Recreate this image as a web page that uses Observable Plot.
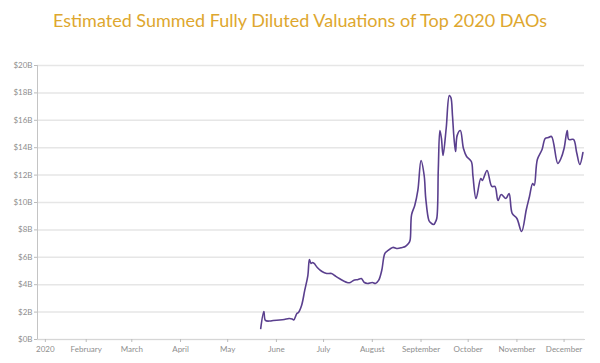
<!DOCTYPE html>
<html>
<head>
<meta charset="utf-8">
<script src="https://cdn.jsdelivr.net/npm/d3@7"></script>
<script src="https://cdn.jsdelivr.net/npm/@observablehq/plot@0.6"></script>
<style>
  html, body { margin: 0; padding: 0; background: #fff; }
  #title { height: 40px; line-height: 40px; text-align: center; font-family: Lato, "Open Sans", sans-serif; font-size: 18px; color: #dea72e; width: 600px; }
  #chart svg { display: block; font-family: Lato, "Open Sans", sans-serif; }
</style>
</head>
<body>
<div id="title">Estimated Summed Fully Diluted Valuations of Top 2020 DAOs</div>
<div id="chart"></div>
<script>
const dates = ["2020-05-22","2020-05-24","2020-05-25","2020-05-28","2020-05-30","2020-06-03","2020-06-06","2020-06-09","2020-06-11","2020-06-12",
"2020-06-14","2020-06-15","2020-06-17","2020-06-19","2020-06-21","2020-06-22","2020-06-23","2020-06-24","2020-06-25","2020-06-27",
"2020-06-30","2020-07-03","2020-07-06","2020-07-08","2020-07-11","2020-07-16","2020-07-18","2020-07-20","2020-07-23","2020-07-25",
"2020-07-27","2020-07-29","2020-08-01","2020-08-03","2020-08-05","2020-08-07","2020-08-09","2020-08-11","2020-08-14","2020-08-17",
"2020-08-20","2020-08-22","2020-08-24","2020-08-25","2020-08-26","2020-08-28","2020-08-30","2020-09-01","2020-09-03","2020-09-04",
"2020-09-06","2020-09-07","2020-09-09","2020-09-10","2020-09-11","2020-09-12","2020-09-13","2020-09-14","2020-09-15","2020-09-17",
"2020-09-19","2020-09-20","2020-09-21","2020-09-22","2020-09-23","2020-09-24","2020-09-26","2020-09-28","2020-09-30","2020-10-03",
"2020-10-04","2020-10-06","2020-10-09","2020-10-10","2020-10-13","2020-10-16","2020-10-18","2020-10-20","2020-10-22","2020-10-25",
"2020-10-27","2020-10-29","2020-11-01","2020-11-04","2020-11-07","2020-11-09","2020-11-11","2020-11-12","2020-11-14","2020-11-17",
"2020-11-19","2020-11-21","2020-11-23","2020-11-27","2020-11-29","2020-12-01","2020-12-03","2020-12-04","2020-12-07","2020-12-09",
"2020-12-11","2020-12-13"];
const valuesB = [0.80,2.04,1.39,1.35,1.39,1.42,1.46,1.53,1.50,1.42,
1.90,1.97,2.48,3.58,4.67,5.84,5.55,5.62,5.55,5.26,
4.96,4.82,4.82,4.67,4.45,4.16,4.16,4.31,4.38,4.45,
4.16,4.09,4.16,4.09,4.31,5.04,6.28,6.50,6.72,6.64,
6.72,6.79,7.00,7.23,9.12,9.78,10.90,13.07,11.97,10.30,
8.69,8.54,8.39,8.54,8.83,12.48,15.26,14.67,13.43,15.40,
17.81,17.66,16.35,14.67,13.72,14.90,15.26,13.94,13.36,12.99,
11.97,10.29,11.75,11.61,12.34,11.17,11.17,10.15,10.58,10.29,
10.66,9.20,8.83,7.88,9.49,10.44,11.39,11.24,13.14,13.87,
14.67,14.74,14.82,12.85,13.21,13.94,15.26,14.60,14.60,13.65,
12.77,13.65];
const yTicks = [0,2,4,6,8,10,12,14,16,18,20];
const monthLabels = ["2020","February","March","April","May","June","July","August","September","October","November","December"];
const tickDates = ["2020-01-06","2020-02-01","2020-03-01","2020-04-01","2020-05-01","2020-06-01","2020-07-01","2020-08-01","2020-09-01","2020-10-01","2020-11-01","2020-12-01"];
const monthTicks = tickDates.map(d => new Date(d + "T00:00:00Z"));

const data = dates.map((d, i) => ({date: new Date(d + "T00:00:00Z"), value: valuesB[i]}));

const chart = Plot.plot({
  width: 600,
  height: 323,
  marginTop: 25,
  marginBottom: 24,
  marginLeft: 37,
  marginRight: 16,
  style: {fontFamily: "Lato, 'Open Sans', sans-serif", background: "#fff"},
  x: {type: "utc", domain: [new Date(Date.UTC(2020,0,1)), new Date(Date.UTC(2020,11,14))]},
  y: {domain: [0, 20]},
  marks: [
    Plot.gridY(yTicks, {stroke: "#e6e6e6", strokeOpacity: 1, strokeWidth: 1.5}),
    Plot.frame({anchor: "left", stroke: "#c4c4c4", strokeWidth: 1}),
    Plot.frame({anchor: "bottom", stroke: "#d6d6d6", strokeWidth: 1}),
    Plot.axisY(yTicks, {tickFormat: d => `$${d}B`, tickSize: 3, tickPadding: 2, fontSize: 8, color: "#8e8e8e", stroke: "#bbb", label: null}),
    Plot.axisX(monthTicks, {tickFormat: d => monthLabels[d.getUTCMonth()], tickSize: 3, tickPadding: 4, fontSize: 8, color: "#8e8e8e", stroke: "#bbb", label: null}),
    Plot.lineY(data, {x: "date", y: "value", stroke: "#5a3f8e", strokeWidth: 1.6, curve: "catmull-rom"})
  ]
});
document.getElementById("chart").appendChild(chart);
</script>
</body>
</html>
